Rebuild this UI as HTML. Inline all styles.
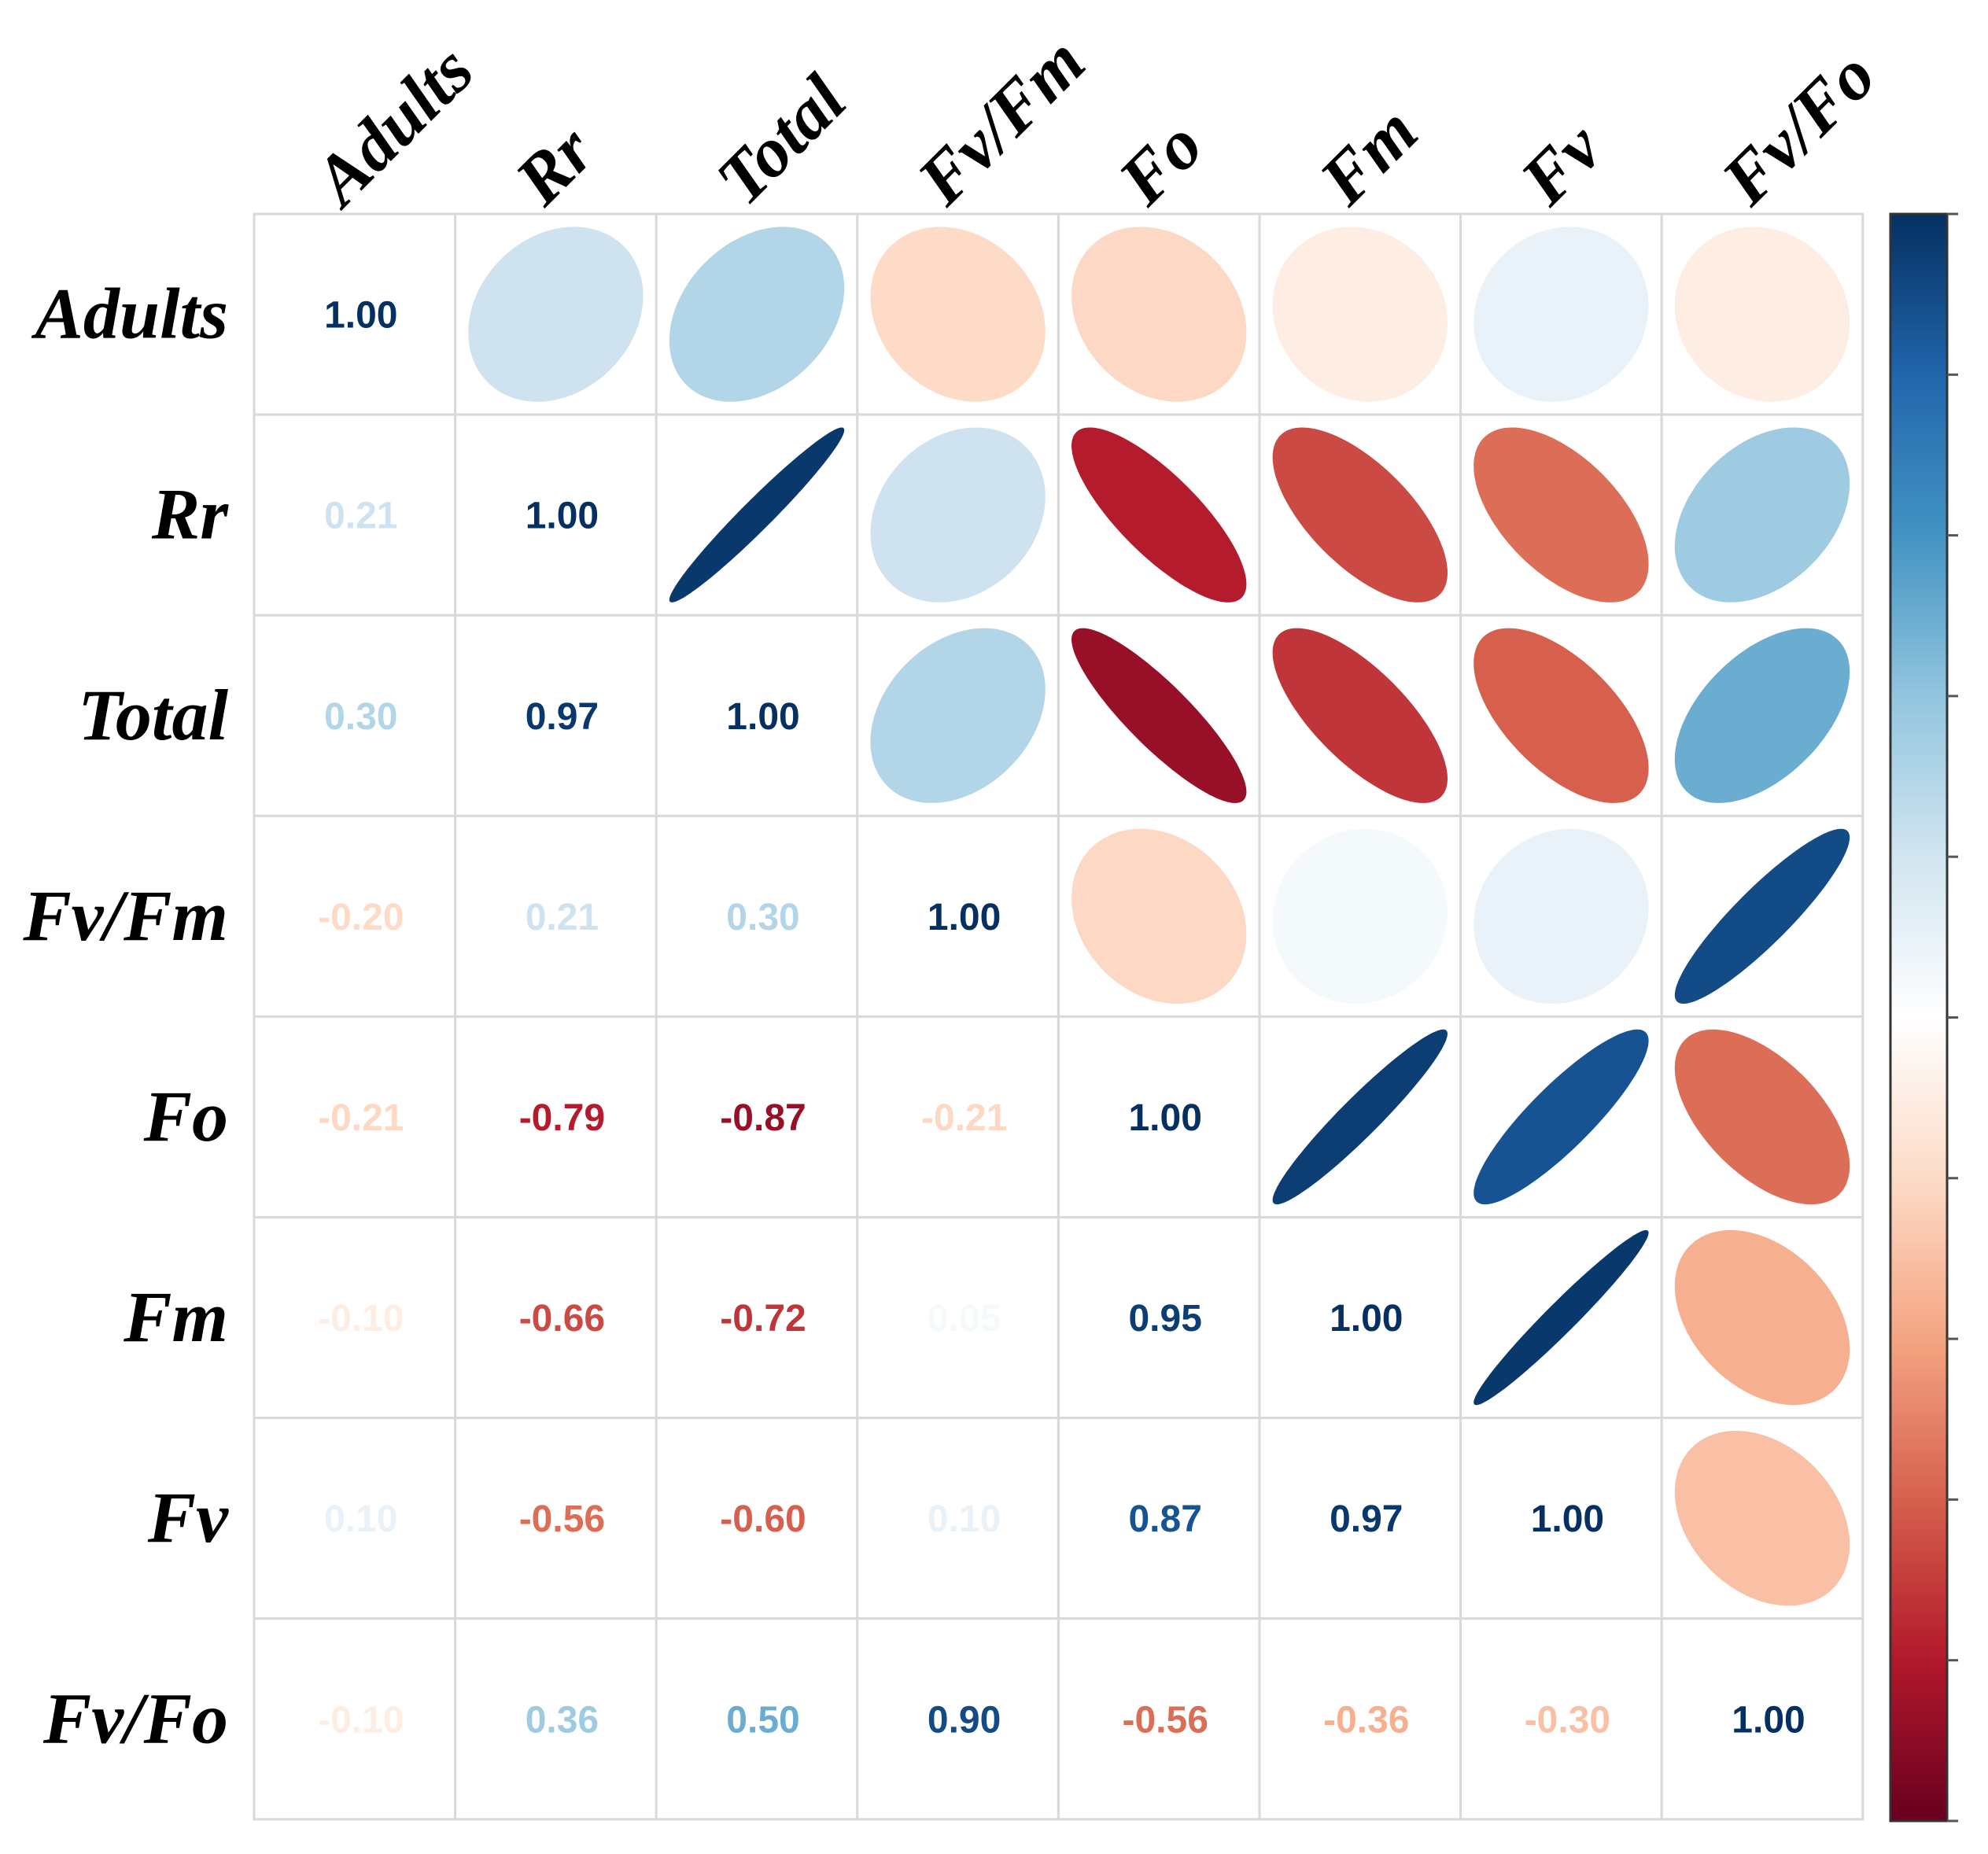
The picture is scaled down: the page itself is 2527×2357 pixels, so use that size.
<!DOCTYPE html>
<html><head><meta charset="utf-8"><style>html,body{margin:0;padding:0;background:#fff}svg{display:block}</style></head>
<body>
<svg id="chart" width="2527" height="2357" xmlns="http://www.w3.org/2000/svg"></svg>
<script>
const labels = ["Adults","Rr","Total","Fv/Fm","Fo","Fm","Fv","Fv/Fo"];
const row1 = [1.00];
const row2 = [0.21,1.00];
const row3 = [0.30,0.97,1.00];
const row4 = [-0.20,0.21,0.30,1.00];
const row5 = [-0.21,-0.79,-0.87,-0.21,1.00];
const row6 = [-0.10,-0.66,-0.72,0.05,0.95,1.00];
const row7 = [0.10,-0.56,-0.60,0.10,0.87,0.97,1.00];
const row8 = [-0.10,0.36,0.50,0.90,-0.56,-0.36,-0.30,1.00];
const lower = [row1,row2,row3,row4,row5,row6,row7,row8];
const cbTicks = [-1,-0.8,-0.6,-0.4,-0.2,0,0.2,0.4,0.6,0.8,1];

const NS="http://www.w3.org/2000/svg";
const svg=document.getElementById('chart');
const X0=323,Y0=272,CW=255.6,CH=255.1,N=labels.length;
const pal=["#67001F","#B2182B","#D6604D","#F4A582","#FDDBC7","#FFFFFF","#D1E5F0","#92C5DE","#4393C3","#2166AC","#053061"];
function hex(h){return [1,3,5].map(i=>parseInt(h.substr(i,2),16));}
function col(v){let t=(v+1)/2*(pal.length-1);let i=Math.min(Math.floor(t),pal.length-2);let f=t-i;
 const a=hex(pal[i]),b=hex(pal[i+1]);return 'rgb('+a.map((c,k)=>Math.round(c+(b[k]-c)*f)).join(',')+')';}
function mk(tag,attrs){const e=document.createElementNS(NS,tag);for(const k in attrs)e.setAttribute(k,attrs[k]);return e;}
function val(i,j){return i>=j?lower[i][j]:lower[j][i];}
function cx(j){return X0+CW*(j+0.5);}
function cy(i){return Y0+CH*(i+0.5);}

for(let i=0;i<N;i++)for(let j=0;j<N;j++){
 const r=mk('rect',{x:X0+CW*j,y:Y0+CH*i,width:CW,height:CH,fill:'#fff',stroke:'#d9d9d9','stroke-width':3});
 
 
 svg.appendChild(r);
}
for(let i=0;i<N;i++)for(let j=0;j<N;j++){
 const v=val(i,j);
 if(j>i){
  const d=Math.acos(Math.max(-1,Math.min(1,v)));const s=CW*0.435;let p=[];
  for(let k=0;k<120;k++){const t=k/120*2*Math.PI;p.push((cx(j)+s*Math.cos(t+d/2)).toFixed(1)+','+(cy(i)-s*Math.cos(t-d/2)).toFixed(1));}
  const e=mk('polygon',{points:p.join(' '),fill:col(v)});
  
  
  svg.appendChild(e);
 } else {
  const t=mk('text',{x:cx(j)+8,y:cy(i)+17,'text-anchor':'middle','font-family':'Liberation Sans, Arial, sans-serif','font-weight':'bold','font-size':48,fill:col(v)});
  t.textContent=v.toFixed(2);
  
  
  svg.appendChild(t);
 }
}
labels.forEach((l,i)=>{
 const t=mk('text',{x:290,y:cy(i)+30,'text-anchor':'end','font-family':'Liberation Serif, Times New Roman, serif','font-weight':'bold','font-style':'italic','font-size':92,fill:'#000'});
 t.textContent=l;
 
 
 svg.appendChild(t);
 const x=cx(i)-14,y=265;
 const c=mk('text',{x:x,y:y,transform:'rotate(-45 '+x+' '+y+')','font-family':'Liberation Serif, Times New Roman, serif','font-weight':'bold','font-style':'italic','font-size':90,fill:'#000'});
 c.textContent=l;
 
 
 svg.appendChild(c);
});
const CBX=2403,CBW=72,CBT=272,CBB=2315;
const defs=mk('defs',{});const g=mk('linearGradient',{id:'cb',x1:0,y1:1,x2:0,y2:0});
pal.forEach((p,k)=>{g.appendChild(mk('stop',{offset:k/(pal.length-1),'stop-color':p}));});
defs.appendChild(g);svg.appendChild(defs);
const cb=mk('rect',{x:CBX,y:CBT,width:CBW,height:CBB-CBT,fill:'url(#cb)',stroke:'#333','stroke-width':3});


svg.appendChild(cb);
cbTicks.forEach(v=>{
 const y=CBB-(v+1)/2*(CBB-CBT);
 const ln=mk('line',{x1:CBX+CBW,x2:CBX+CBW+14,y1:y,y2:y,stroke:'#555','stroke-width':3});
 
 
 svg.appendChild(ln);
});
</script>
</body></html>
